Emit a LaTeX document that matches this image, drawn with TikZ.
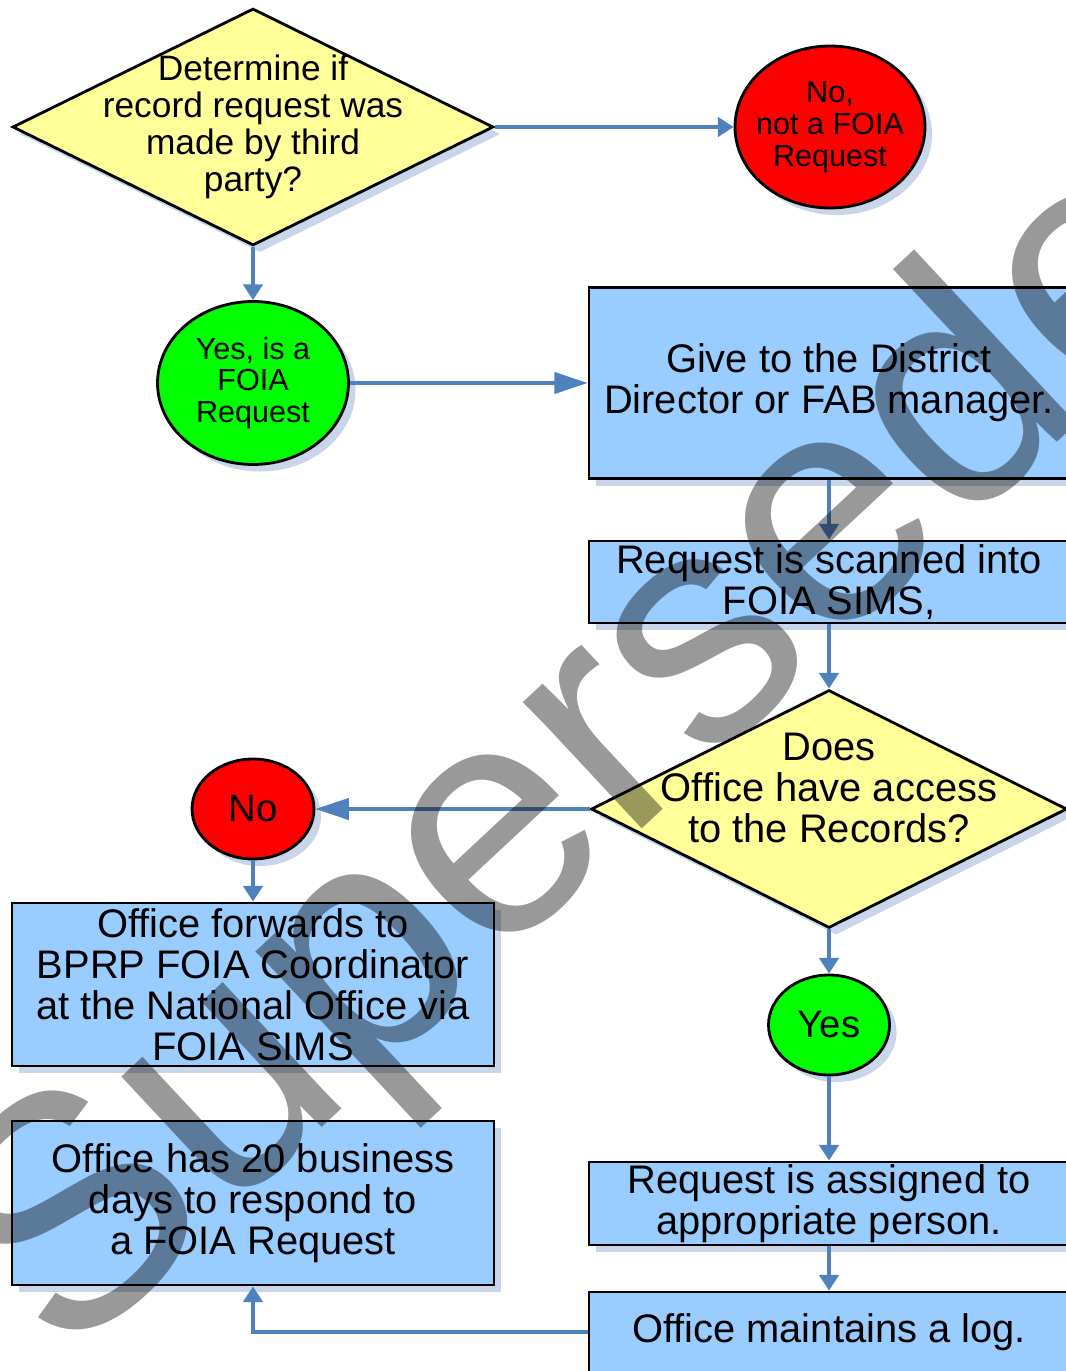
\documentclass[tikz,border=0pt]{standalone}
\usepackage{fontspec}
\setmainfont{Liberation Sans}
\usetikzlibrary{arrows.meta,shapes.geometric,shadows}
\definecolor{decyellow}{HTML}{FFFF99}
\definecolor{stepblue}{HTML}{99CCFF}
\definecolor{flowblue}{HTML}{4F81BD}
\definecolor{shadeblue}{HTML}{C9D5E8}
\definecolor{noRed}{HTML}{FF0000}
\definecolor{yesGreen}{HTML}{00FF00}
\newcommand\boxfont{\fontsize{22.7}{23.3}\selectfont}
\newcommand\qfont{\fontsize{20.1}{21}\selectfont}
\newcommand\bubblefont{\fontsize{17.4}{18.1}\selectfont}
\newcommand\answerfont{\fontsize{21.8}{22}\selectfont}
\newcommand\stampfont{\fontsize{187}{187}\selectfont}

\begin{document}
\begin{tikzpicture}[x=0.02cm,y=-0.02cm,>={Triangle[length=9pt,width=11pt]},
    flow/.style={->,draw=flowblue,line width=2.2pt},
    longflow/.style={flow,-{Triangle[length=19pt,width=12pt]}},
    outline/.style={draw=black,line width=1.6pt,inner sep=0pt,
      drop shadow={shadow xshift=4pt,shadow yshift=-4pt,fill=shadeblue,opacity=1}},
    decision/.style={outline,diamond,fill=decyellow},
    stepbox/.style={outline,rectangle,fill=stepblue,align=center,font=\boxfont},
    nobubble/.style={outline,ellipse,fill=noRed},
    yesbubble/.style={outline,ellipse,fill=yesGreen},
    inside/.style={align=center,inner sep=0pt},
    stamp/.style={font=\stampfont,text=black,text opacity=0.4,inner sep=0pt}]
    \useasboundingbox (0,0) rectangle (1065,1371);

    \node[decision,minimum width=9.62cm,minimum height=4.74cm,
      label={[inside,font=\qfont]center:{Determine if\\record request was\\made by third\\party?}}] (third) at (253,127) {};
    \node[nobubble,minimum width=3.8cm,minimum height=3.24cm,
      label={[inside,font=\bubblefont]center:{No,\\not a FOIA\\Request}}] (notfoia) at (830,127) {};
    \node[yesbubble,minimum width=3.82cm,minimum height=3.26cm,
      label={[inside,font=\bubblefont]center:{Yes, is a\\FOIA\\Request}}] (isfoia) at (253,383) {};
    \node[stepbox,minimum width=9.6cm,minimum height=3.82cm] (give) at (829,383)
      {Give to the District\\Director or FAB manager.};
    \node[stepbox,minimum width=9.6cm,minimum height=1.64cm] (scan) at (829,582)
      {Request is scanned into\\FOIA SIMS,};
    \node[decision,minimum width=9.52cm,minimum height=4.76cm,
      label={[inside,font=\boxfont,yshift=12pt]center:{Does\\Office have access\\to the Records?}}] (access) at (829,809) {};
    \node[nobubble,minimum width=2.44cm,minimum height=2cm,
      label={[inside,font=\answerfont]center:{No}}] (noacc) at (253,809) {};
    \node[stepbox,minimum width=9.64cm,minimum height=3.26cm] (forward) at (253,984.5)
      {Office forwards to\\BPRP FOIA Coordinator\\at the National Office via\\FOIA SIMS};
    \node[yesbubble,minimum width=2.42cm,minimum height=2cm,
      label={[inside,font=\answerfont]center:{Yes}}] (yesacc) at (829,1025) {};
    \node[stepbox,minimum width=9.6cm,minimum height=1.66cm] (assign) at (829,1203.5)
      {Request is assigned to\\appropriate person.};
    \node[stepbox,minimum width=9.6cm,minimum height=1.6cm] (logbox) at (829,1332)
      {Office maintains a log.};
    \node[stepbox,minimum width=9.64cm,minimum height=3.28cm] (respond) at (253,1203)
      {Office has 20 business\\days to respond to\\a FOIA Request};

    \draw[flow] (third.east) -- (notfoia.west);
    \draw[flow] (third.south) -- (isfoia.north);
    \draw[longflow] (isfoia.east) -- (give.west);
    \draw[flow] (give.south) -- (scan.north);
    \draw[flow] (scan.south) -- (access.north);
    \draw[longflow] (access.west) -- (noacc.east);
    \draw[flow] (noacc.south) -- (forward.north);
    \draw[flow] (access.south) -- (yesacc.north);
    \draw[flow] (yesacc.south) -- (assign.north);
    \draw[flow] (assign.south) -- (logbox.north);
    \draw[flow] (logbox.west) -| (respond.south);

    \node[stamp,rotate=43,anchor=base west] (superseded) at (64,1368) {Superseded};
  \end{tikzpicture}
\end{document}
